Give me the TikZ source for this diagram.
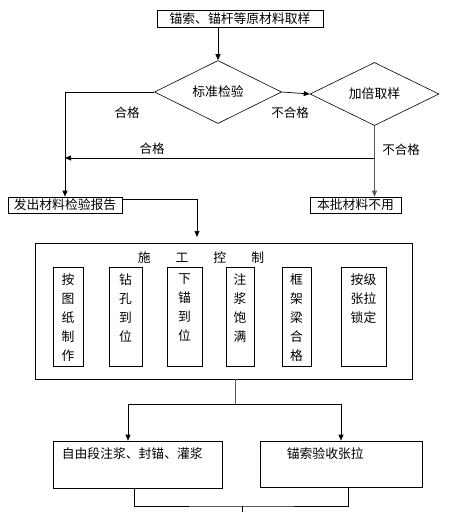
\documentclass[tikz,border=0pt]{standalone}
\usepackage{fontspec}
\setmainfont{Noto Sans CJK SC}
\usetikzlibrary{shapes.geometric,arrows.meta}
\tikzset{box/.style={draw,line width=0.7pt,inner sep=0pt},
  dec/.style={draw,shape=diamond,line width=0.6pt,inner sep=0pt},
  col/.style={draw,line width=0.7pt,inner sep=0pt,minimum height=99pt},
  coltxt/.style={anchor=north,align=center,inner sep=0pt,yshift=-7pt,font=\fontsize{12.8}{19}\selectfont},
  arr/.style={-{Triangle[length=6pt,width=5pt]},line width=0.7pt},
  lbl/.style={font=\fontsize{12.5}{15}\selectfont}}
\begin{document}
\begin{tikzpicture}[x=1pt,y=-1pt,font=\fontsize{12.8}{15}\selectfont]
\useasboundingbox (0,0) rectangle (455,512);
% vertices
\node[box,minimum width=166pt,minimum height=17pt] (sample) at (240,18.5) {锚索、锚杆等原材料取样};
\node[dec,minimum width=127pt,minimum height=46pt] (check) at (218,92) {标准检验};
\node[dec,minimum width=129pt,minimum height=50pt] (double) at (374.5,94) {加倍取样};
\node[box,minimum width=114pt,minimum height=16pt] (report) at (65,205) {发出材料检验报告};
\node[box,minimum width=91pt,minimum height=16pt] (reject) at (355.5,205) {本批材料不用};
\node[box,minimum width=377pt,minimum height=136pt] (ctrl) at (223.5,311) {};
\node (ctrltitle) at (201,258) {施\hspace{25pt}工\hspace{25pt}控\hspace{25pt}制};
\node[col,minimum width=30pt,label={[coltxt]north:按\\图\\纸\\制\\作}] (c1) at (68,316.5) {};
\node[col,minimum width=33pt,label={[coltxt]north:钻\\孔\\到\\位}] (c2) at (125.5,316.5) {};
\node[col,minimum width=35pt,label={[coltxt]north:下\\锚\\到\\位}] (c3) at (184.5,316.5) {};
\node[col,minimum width=28pt,label={[coltxt]north:注\\浆\\饱\\满}] (c4) at (240,316.5) {};
\node[col,minimum width=29pt,label={[coltxt]north:框\\架\\梁\\合\\格}] (c5) at (296.5,316.5) {};
\node[col,minimum width=45pt,label={[coltxt]north:按级\\张拉\\锁定}] (c6) at (363.5,316.5) {};
\node[box,minimum width=169pt,minimum height=47pt,label={[anchor=north west,inner sep=0pt,xshift=9pt,yshift=-7pt]north west:自由段注浆、封锚、灌浆}] (fill) at (137.5,464.5) {};
\node[box,minimum width=162pt,minimum height=46pt,label={[anchor=north west,inner sep=0pt,xshift=27pt,yshift=-7pt]north west:锚索验收张拉}] (accept) at (341,464) {};
\coordinate (ctrlin) at (197,237);
\coordinate (back) at (374,158);
\coordinate (split) at (235,404);
\coordinate (join) at (242,506);
\coordinate (out) at (242,513);
%edges
\draw[arr] (check.north |- sample.south) -- (check.north);
\draw[arr] (check.west) -| (report.north);
\node[lbl] (pass1) at (127,113) {合格};
\draw[arr] (check.east) -- (double.west);
\node[lbl] (fail1) at (290,113) {不合格};
\draw[arr,black!65] (double.south) -- (double.south |- reject.north);
\node[lbl] (fail2) at (401,150) {不合格};
\draw[arr] (back) -- (back -| report.north);
\node[lbl] (pass2) at (152,149) {合格};
\draw[arr] ([yshift=6pt]report.east) -| (ctrlin);
\draw[black!65,line width=0.7pt] (ctrl.south -| split) -- (split);
\draw[line width=0.7pt] (128,404) -- (341,404);
\draw[arr] (128,404) -- (fill.north -| 128,0);
\draw[arr] (341,404) -- (accept.north);
\draw[line width=0.7pt] ([xshift=-3.5pt]fill.south) |- (join) -| ([xshift=7pt]accept.south);
\draw[line width=0.7pt] (join) -- (out);
\end{tikzpicture}
\end{document}
